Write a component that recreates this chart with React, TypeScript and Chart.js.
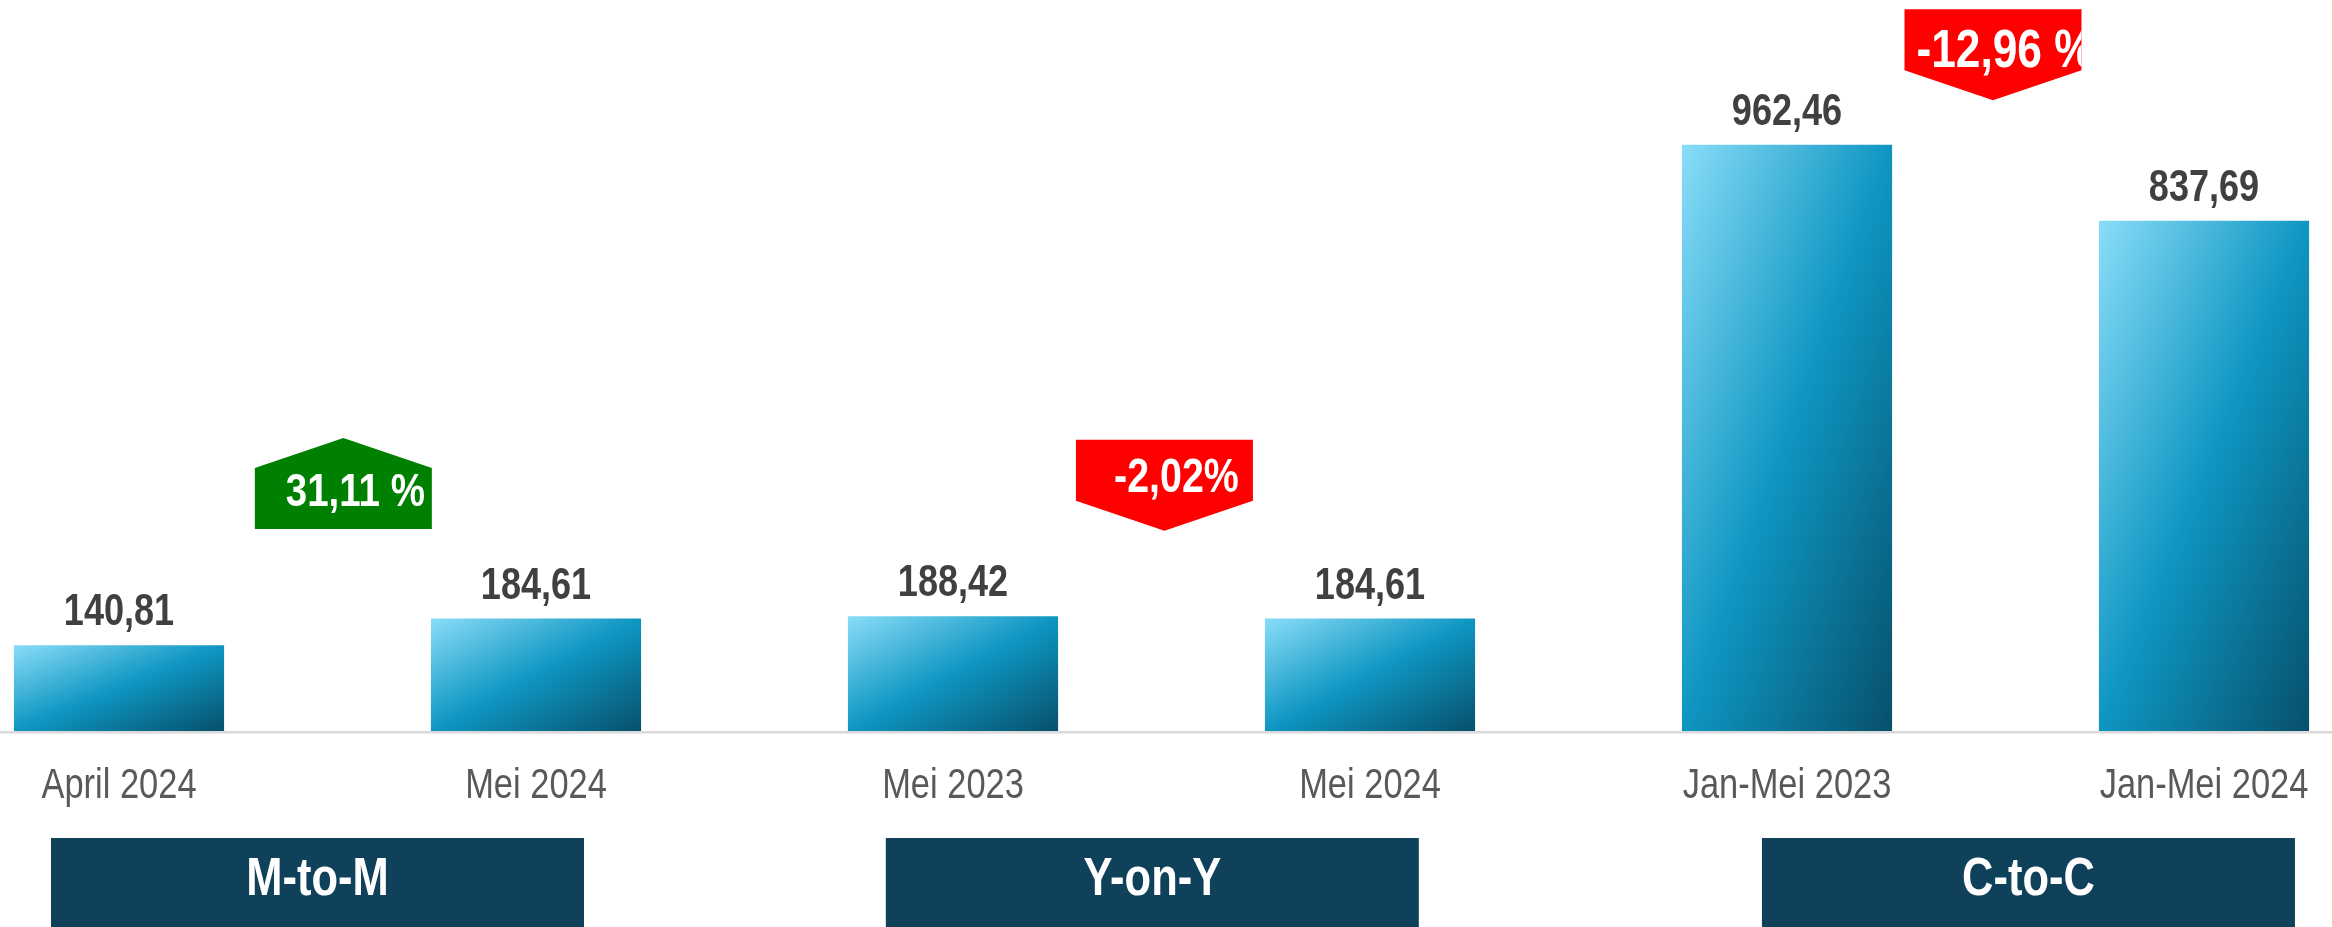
import React, { useEffect, useRef } from "react";
import { Chart, registerables } from "chart.js";

Chart.register(...registerables);

// ---- data ----
const categories = ["April 2024", "Mei 2024", "Mei 2023", "Mei 2024", "Jan-Mei 2023", "Jan-Mei 2024"];
const values = [140.81, 184.61, 188.42, 184.61, 962.46, 837.69];
const groupLabels = ["M-to-M", "Y-on-Y", "C-to-C"];
const changeLabels = ["31,11 %", "-2,02%", "-12,96 %"];
const changeDirections = ["up", "down", "down"];

// ---- styling / layout ----
const W = 2332;
const H = 927;
const FONT = "'Liberation Sans', Arial, sans-serif";
const NARROW_SCALE = 0.82; // emulate Arial Narrow
const BAR_PCT = 0.504;
const Y_MAX = 1200;

const badgeLayout = [
  { xIndex: 0.538, yTop: 481, textDy: 68, color: "#008000", fontSize: 47 },
  { xIndex: 2.507, yTop: 478, textDy: 52, color: "#FF0000", fontSize: 48 },
  { xIndex: 4.494, yTop: 1185, textDy: 58, color: "#FF0000", fontSize: 54 },
];
const BADGE_W = 177;
const BADGE_RECT_H = 61;
const BADGE_ARROW_H = 30;

const groupLayout = [{ xIndex: 0.476 }, { xIndex: 2.478 }, { xIndex: 4.579 }];
const GROUP_W = 533;
const GROUP_TOP_OFFSET = 107;
const TICK_BASELINE_OFFSET = 67;

const fmt = (v: number) => v.toFixed(2).replace(".", ",");

function narrowText(ctx: CanvasRenderingContext2D, text: string, x: number, y: number, font: string, color: string) {
  ctx.save();
  ctx.translate(x, y);
  ctx.scale(NARROW_SCALE, 1);
  ctx.font = font;
  ctx.fillStyle = color;
  ctx.textAlign = "center";
  ctx.textBaseline = "alphabetic";
  ctx.fillText(text, 0, 0);
  ctx.restore();
}

const overlayPlugin = {
  id: "overlay",
  beforeDatasetsDraw(chart: any) {
    const { ctx, chartArea } = chart;
    ctx.save();
    ctx.fillStyle = "#D9D9D9";
    ctx.fillRect(0, chartArea.bottom, W, 2.5);
    ctx.restore();
  },
  afterDraw(chart: any) {
    const { ctx, chartArea } = chart;
    const xs = chart.scales.x;
    const ys = chart.scales.y;
    const meta = chart.getDatasetMeta(0);
    ctx.save();
    // category tick labels from the x axis
    xs.ticks.forEach((t: any, i: number) => {
      const label = xs.getLabelForValue(t.value);
      narrowText(ctx, label, xs.getPixelForTick(i), chartArea.bottom + TICK_BASELINE_OFFSET, `42px ${FONT}`, "#595959");
    });
    // value labels
    meta.data.forEach((bar: any, i: number) => {
      narrowText(ctx, fmt(values[i]), bar.x, bar.y - 20, `bold 44px ${FONT}`, "#404040");
    });
    // badges
    badgeLayout.forEach((b, i) => {
      const cx = xs.getPixelForValue(b.xIndex);
      const left = cx - BADGE_W / 2;
      const right = cx + BADGE_W / 2;
      const top = ys.getPixelForValue(b.yTop);
      ctx.beginPath();
      if (changeDirections[i] === "up") {
        const sh = top + BADGE_ARROW_H;
        const bot = sh + BADGE_RECT_H;
        ctx.moveTo(left, sh);
        ctx.lineTo(cx, top);
        ctx.lineTo(right, sh);
        ctx.lineTo(right, bot);
        ctx.lineTo(left, bot);
      } else {
        const rb = top + BADGE_RECT_H;
        const pt = rb + BADGE_ARROW_H;
        ctx.moveTo(left, top);
        ctx.lineTo(right, top);
        ctx.lineTo(right, rb);
        ctx.lineTo(cx, pt);
        ctx.lineTo(left, rb);
      }
      ctx.closePath();
      ctx.fillStyle = b.color;
      ctx.fill();
      ctx.save();
      ctx.beginPath();
      ctx.rect(left, top - BADGE_ARROW_H, BADGE_W, BADGE_RECT_H + 2 * BADGE_ARROW_H);
      ctx.clip();
      narrowText(ctx, changeLabels[i], cx + 12, top + b.textDy, `bold ${b.fontSize}px ${FONT}`, "#FFFFFF");
      ctx.restore();
    });
    // group boxes
    const gTop = chartArea.bottom + GROUP_TOP_OFFSET;
    groupLayout.forEach((g, i) => {
      const cx = xs.getPixelForValue(g.xIndex);
      ctx.fillStyle = "#0F425A";
      ctx.fillRect(cx - GROUP_W / 2, gTop, GROUP_W, H - gTop);
      narrowText(ctx, groupLabels[i], cx, gTop + 57, `bold 53px ${FONT}`, "#FFFFFF");
    });
    ctx.restore();
  },
};

export default function App() {
  const ref = useRef<HTMLCanvasElement | null>(null);
  useEffect(() => {
    if (!ref.current) return;
    const chart = new Chart(ref.current, {
      type: "bar",
      data: {
        labels: categories,
        datasets: [
          {
            data: values,
            clip: false as any,
            categoryPercentage: 1,
            barPercentage: BAR_PCT,
            borderWidth: 0,
            backgroundColor: (c: any) => {
              const chart = c.chart;
              if (!chart.chartArea || c.type !== "data") return "#0E96C2";
              const xs = chart.scales.x;
              const ys = chart.scales.y;
              const cx = xs.getPixelForValue(c.dataIndex);
              const step = xs.getPixelForValue(1) - xs.getPixelForValue(0);
              const w = step * BAR_PCT;
              const top = ys.getPixelForValue(c.raw);
              const bottom = ys.getPixelForValue(0);
              const h = Math.max(bottom - top, 1);
              const x0 = cx - w / 2;
              const k = (2 * w * h) / (h * h + w * w);
              const g = chart.ctx.createLinearGradient(x0, top, x0 + h * k, top + w * k);
              g.addColorStop(0, "#8ADDF8");
              g.addColorStop(0.5, "#0E96C2");
              g.addColorStop(1, "#07506B");
              return g;
            },
          },
        ],
      },
      options: {
        animation: false,
        responsive: false,
        devicePixelRatio: 1,
        layout: { padding: { left: 119, right: 128, top: 0, bottom: 0 } },
        plugins: { legend: { display: false }, tooltip: { enabled: false } },
        scales: {
          x: {
            offset: false,
            grid: { display: false, drawTicks: false },
            border: { display: false },
            ticks: { display: false, autoSkip: false, maxRotation: 0 },
            afterFit: (s: any) => {
              s.height = H - 731;
              s.paddingLeft = 0;
              s.paddingRight = 0;
            },
          },
          y: {
            display: false,
            min: 0,
            max: Y_MAX,
          },
        },
      },
      plugins: [overlayPlugin],
    });
    return () => chart.destroy();
  }, []);
  return (
    <div style={{ position: "fixed", left: 0, top: 0, width: W, height: H, background: "#FFFFFF" }}>
      <canvas ref={ref} width={W} height={H} style={{ display: "block", width: W, height: H }} />
    </div>
  );
}
